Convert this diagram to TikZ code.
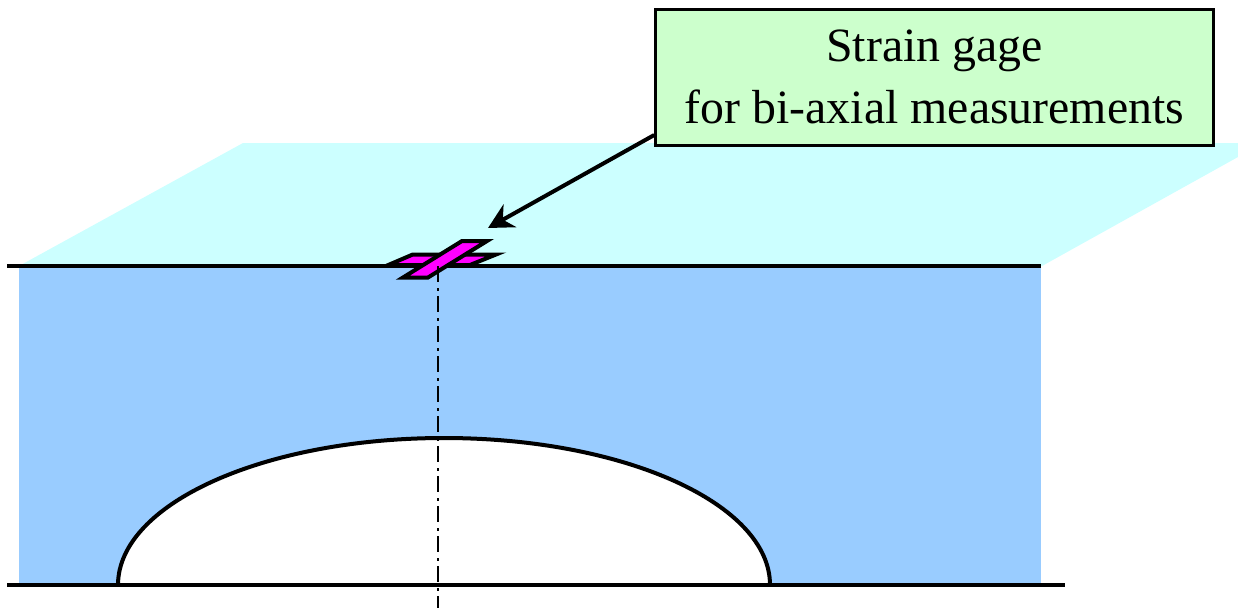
\documentclass[tikz,border=0pt]{standalone}
\usepackage{fontspec}
\setmainfont{Liberation Serif}
\usetikzlibrary{arrows.meta}
\definecolor{topface}{HTML}{CCFFFF}
\definecolor{body}{HTML}{99CCFF}
\definecolor{callout}{HTML}{CCFFCC}
\definecolor{gage}{HTML}{FF00FF}
\tikzset{
  x=1pt,y=-1pt,
  edge/.style={draw=black,line width=4pt},
  gagepart/.style={draw=black,line width=4pt,fill=gage,line join=miter},
  axisline/.style={draw=black,line width=2pt,dash pattern=on 16pt off 6pt on 2.5pt off 5.5pt},
  calloutbox/.style={draw=black,line width=2.5pt,fill=callout,minimum width=558pt,minimum height=136pt,inner sep=0pt,align=center,font=\fontsize{47.8}{62}\selectfont},
  pointer/.style={draw=black,line width=4pt,-{Stealth[length=25pt,width=26pt,inset=8pt]}}
}
\begin{document}
\begin{tikzpicture}
\useasboundingbox (0,0) rectangle (1238,608);
\fill[topface] (243,143) -- (1238,143) -- (1238,157) -- (1042,266) -- (19,266) -- cycle;
\fill[body] (19,266) rectangle (1041,585);
\fill[white] (118,585) arc[start angle=180,end angle=0,x radius=326,y radius=-147] -- cycle;
\draw[axisline] (437.5,266) -- (437.5,608);
\draw[edge] (118,585) arc[start angle=180,end angle=0,x radius=326,y radius=-147];
\draw[edge] (7,266) -- (1041,266);
\draw[edge] (7,585) -- (1065,585);
\draw[gagepart] (412.8,254.5) -- (496,254.5) -- (470,265) -- (388.3,265) -- cycle;
\draw[gagepart] (462,241) -- (487,241) -- (428,277.5) -- (403,277.5) -- cycle;
\draw[axisline] (437.5,266) -- (437.5,278);
\node[calloutbox] (note) at (934.5,77.5) {\raisebox{2pt}{Strain gage}\\\raisebox{2pt}{for bi-axial measurements}};
\coordinate (target) at (488,228);
\draw[pointer] (note.south west |- 655,135) -- (target);
\end{tikzpicture}
\end{document}
